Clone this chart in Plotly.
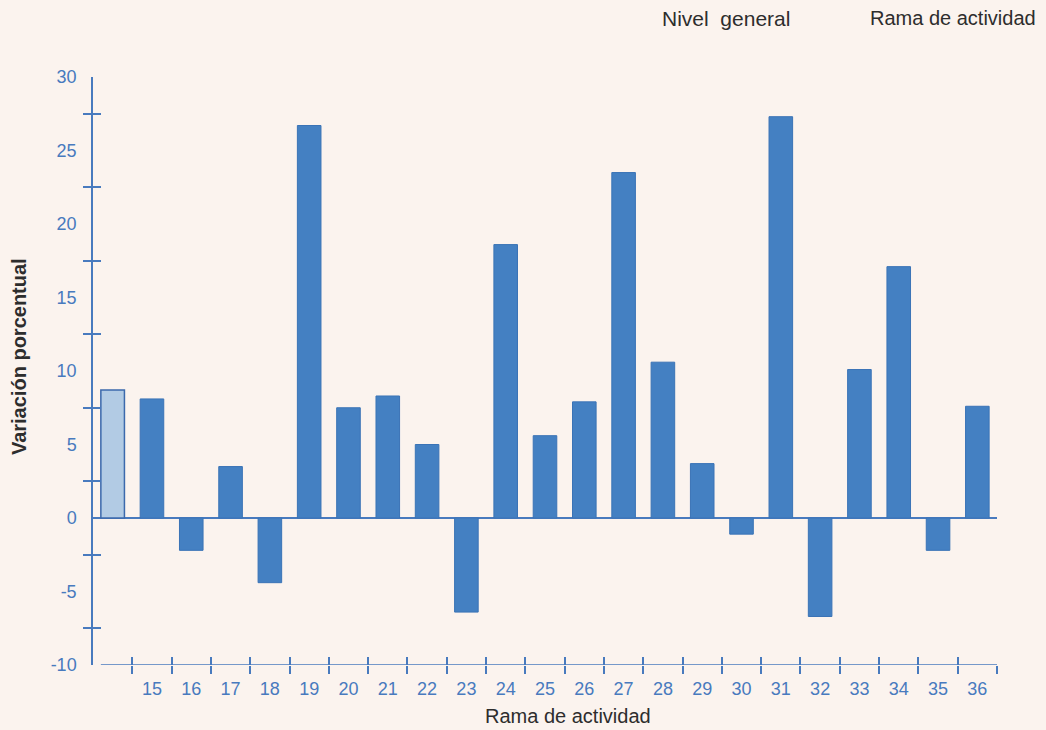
import plotly.graph_objects as go

# ---- data ----
general_label = ["Nivel general"]
general_value = [8.7]
ramas = ["15", "16", "17", "18", "19", "20", "21", "22", "23", "24", "25", "26",
         "27", "28", "29", "30", "31", "32", "33", "34", "35", "36"]
rama_values = [8.1, -2.2, 3.5, -4.4, 26.7, 7.5, 8.3, 5.0, -6.4, 18.6, 5.6, 7.9,
               23.5, 10.6, 3.7, -1.1, 27.3, -6.7, 10.1, 17.1, -2.2, 7.6]
y_ticks = [-10, -5, 0, 5, 10, 15, 20, 25, 30]
y_minor = [-7.5, -2.5, 2.5, 7.5, 12.5, 17.5, 22.5, 27.5]

# ---- styles ----
BG = "rgb(251,243,238)"
AX = "rgb(72,122,190)"
BAR = "rgb(68,128,194)"
BAR_EDGE = "rgb(58,115,182)"
GEN = "rgb(178,203,228)"
GEN_EDGE = "rgb(60,105,172)"
TXT = "rgb(45,45,45)"
FONT = "Liberation Sans, Arial, sans-serif"

n_total = len(general_label) + len(ramas)
gen_pos = list(range(len(general_label)))
rama_pos = [len(general_label) + i for i in range(len(ramas))]
boundaries = [p + 0.5 for p in range(n_total)]

fig = go.Figure()
fig.add_trace(go.Bar(x=gen_pos, y=general_value, name="Nivel general", width=0.6,
                     marker=dict(color=GEN, line=dict(color=GEN_EDGE, width=1.5)),
                     showlegend=False))
fig.add_trace(go.Bar(x=rama_pos, y=rama_values, name="Rama de actividad", width=0.6,
                     marker=dict(color=BAR, line=dict(color=BAR_EDGE, width=1)),
                     showlegend=False))
# invisible trace for overlay axes (inside half of crossing ticks)
fig.add_trace(go.Scatter(x=[0], y=[0], xaxis="x2", yaxis="y2", mode="markers",
                         marker=dict(opacity=0), showlegend=False, hoverinfo="skip"))

xr = [-0.5, n_total - 0.5]
yr = [-10, 30]

fig.update_layout(
    width=1046, height=730,
    paper_bgcolor=BG, plot_bgcolor=BG,
    margin=dict(l=93, r=49, t=77, b=65),
    barmode="overlay",
    font=dict(family=FONT, color=AX, size=18),
    xaxis=dict(range=xr, tickmode="array", tickvals=rama_pos, ticktext=ramas,
               ticks="", showgrid=False, zeroline=False, showline=False,
               tickfont=dict(size=18, color=AX), ticklabelstandoff=11,
               minor=dict(tickmode="array", tickvals=boundaries, ticks="outside",
                          ticklen=8, tickwidth=1.5, tickcolor=AX, showgrid=False)),
    yaxis=dict(range=yr, tickmode="array", tickvals=y_ticks,
               ticktext=[str(v) for v in y_ticks], ticks="",
               showgrid=False, zeroline=True, zerolinecolor=AX, zerolinewidth=1.5,
               showline=True, linecolor=AX, linewidth=1.5,
               tickfont=dict(size=18, color=AX), ticklabelstandoff=11,
               minor=dict(tickmode="array", tickvals=y_minor, ticks="outside",
                          ticklen=8, tickwidth=1.5, tickcolor=AX, showgrid=False)),
    xaxis2=dict(range=xr, overlaying="x", anchor="y2", tickmode="array",
                tickvals=boundaries, ticks="inside", ticklen=8, tickwidth=1.5,
                tickcolor=AX, showticklabels=False, showgrid=False, zeroline=False,
                showline=False),
    yaxis2=dict(range=yr, overlaying="y", anchor="x2", side="left", tickmode="array",
                tickvals=y_minor, ticks="inside", ticklen=8, tickwidth=1.5,
                tickcolor=AX, showticklabels=False, showgrid=False, zeroline=False,
                showline=False),
    shapes=[dict(type="line", xref="x", yref="y", x0=-0.3, x1=n_total - 0.5,
                 y0=-10, y1=-10, line=dict(color=AX, width=1.5))],
    annotations=[
        dict(text="Rama de actividad", xref="paper", yref="paper", x=0.525, y=-0.087,
             xanchor="center", yanchor="middle", showarrow=False,
             font=dict(size=20, color=TXT, family=FONT)),
        dict(text="<b>Variación porcentual</b>", xref="paper", yref="paper", x=-0.081,
             y=0.525, xanchor="center", yanchor="middle", textangle=-90, showarrow=False,
             font=dict(size=20, color=TXT, family=FONT)),
        dict(text="Nivel  general", xref="paper", yref="paper", x=0.627, y=1.10,
             xanchor="left", yanchor="middle", showarrow=False,
             font=dict(size=21, color=TXT, family=FONT)),
        dict(text="Rama de actividad", xref="paper", yref="paper", x=0.857, y=1.10,
             xanchor="left", yanchor="middle", showarrow=False,
             font=dict(size=20, color=TXT, family=FONT)),
    ],
)

fig.write_html("out.html", config={"displayModeBar": False},
               post_script="document.body.style.margin='0';document.body.style.overflow='hidden';")
